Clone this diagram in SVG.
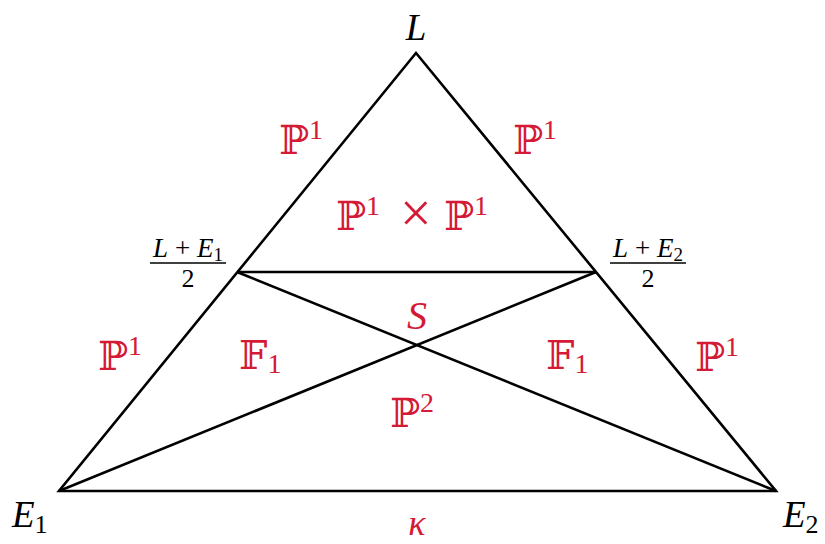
<svg xmlns="http://www.w3.org/2000/svg" width="825" height="544" viewBox="0 0 825 544">
<style>
.ln{stroke:#000;stroke-width:2.6;fill:none;stroke-linejoin:miter}
.it{font-family:"Liberation Serif","DejaVu Serif",serif;font-style:italic;fill:#000}
.rm{font-family:"Liberation Serif","DejaVu Serif",serif;fill:#000}
.bb{font-family:"DejaVu Serif","DejaVu Sans",serif;fill:#d41a34;font-size:40px}
.sup{font-family:"Liberation Serif",serif;font-size:28px}
.red{fill:#d41a34}
</style>
<rect width="825" height="544" fill="#fff"/>
<g id="connectors">
<polygon class="ln" points="416,53 59,491 776,491"/>
<line class="ln" x1="237" y1="272" x2="596" y2="272"/>
<line class="ln" x1="237" y1="272" x2="776" y2="491"/>
<line class="ln" x1="596" y1="272" x2="59" y2="491"/>
</g>
<g id="L"><text class="it" x="416" y="40" font-size="37" text-anchor="middle">L</text></g>
<g id="E1"><text class="it" x="12" y="527" font-size="37">E<tspan class="rm" font-style="normal" font-size="26" dy="6">1</tspan></text></g>
<g id="E2"><text class="it" x="783" y="527" font-size="37">E<tspan class="rm" font-style="normal" font-size="26" dy="6">2</tspan></text></g>
<g id="M1">
<text class="it" x="188" y="257" font-size="27" text-anchor="middle">L<tspan class="rm" font-style="normal"> + </tspan>E<tspan class="rm" font-style="normal" font-size="19" dy="4">1</tspan></text>
<line x1="150" y1="263" x2="226" y2="263" stroke="#000" stroke-width="1.5"/>
<text class="rm" x="188" y="287" font-size="26" text-anchor="middle">2</text>
</g>
<g id="M2">
<text class="it" x="648" y="257" font-size="27" text-anchor="middle">L<tspan class="rm" font-style="normal"> + </tspan>E<tspan class="rm" font-style="normal" font-size="19" dy="4">2</tspan></text>
<line x1="610" y1="263" x2="686" y2="263" stroke="#000" stroke-width="1.5"/>
<text class="rm" x="648" y="287" font-size="26" text-anchor="middle">2</text>
</g>
<g id="P1ul"><text class="bb" x="279" y="154">ℙ<tspan class="sup red" dy="-15">1</tspan></text></g>
<g id="P1ur"><text class="bb" x="513" y="154">ℙ<tspan class="sup red" dy="-15">1</tspan></text></g>
<g id="P1ml"><text class="bb" x="98" y="370">ℙ<tspan class="sup red" dy="-15">1</tspan></text></g>
<g id="P1mr"><text class="bb" x="695" y="371">ℙ<tspan class="sup red" dy="-15">1</tspan></text></g>
<g id="P1P1"><text class="bb" x="336" y="230">ℙ<tspan class="sup red" dy="-15">1</tspan><tspan x="400" dy="17" font-family="Liberation Serif" font-size="56">×</tspan><tspan x="444" dy="-2">ℙ</tspan><tspan class="sup red" dy="-15">1</tspan></text></g>
<g id="F1l"><text class="bb" x="239" y="369">𝔽<tspan class="sup red" dy="4">1</tspan></text></g>
<g id="F1r"><text class="bb" x="546" y="369">𝔽<tspan class="sup red" dy="4">1</tspan></text></g>
<g id="S"><text class="it red" x="417" y="329" font-size="40" text-anchor="middle">S</text></g>
<g id="P2"><text class="bb" x="390" y="427">ℙ<tspan class="sup red" dy="-15">2</tspan></text></g>
<g id="kappa"><text class="it red" x="417" y="535" font-size="36" text-anchor="middle">κ</text></g>
</svg>
